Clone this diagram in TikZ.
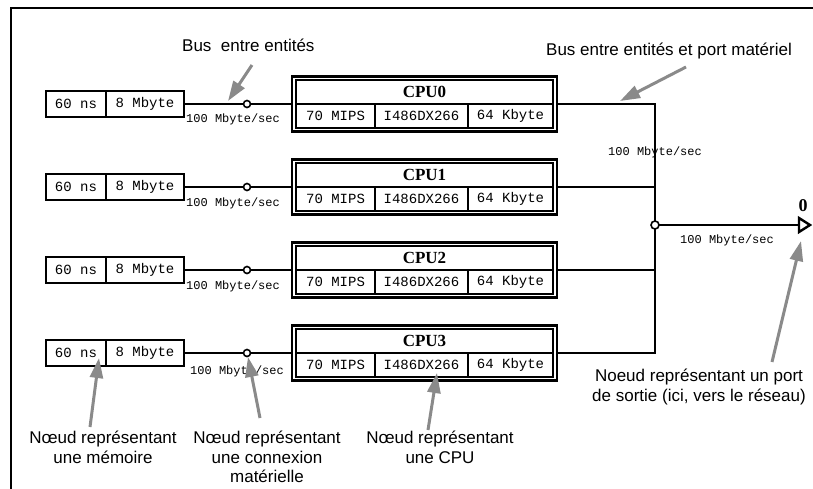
\documentclass[tikz,border=0pt]{standalone}
\usepackage{fontspec}
\setmainfont{Liberation Serif}
\setmonofont{Liberation Mono}
\newfontfamily\annfont{Liberation Sans}
\usetikzlibrary{arrows.meta}
\definecolor{pgray}{RGB}{138,138,138}
\begin{document}
\begin{tikzpicture}[x=1pt,y=-1pt,
  memcell/.style={draw,line width=2.2pt,inner sep=0,minimum height=26pt,font=\ttfamily\fontsize{14}{16}\selectfont},
  cpuouter/.style={draw,line width=2.6pt,inner sep=0,minimum width=265pt,minimum height=55pt},
  cputitle/.style={draw,line width=1.4pt,inner sep=0,minimum width=257pt,minimum height=24pt,font=\bfseries\fontsize{17}{18}\selectfont},
  cpucell/.style={draw,line width=1.4pt,inner sep=0,minimum height=24pt,font=\ttfamily\fontsize{14}{16}\selectfont},
  wire/.style={line width=2.2pt},
  junc/.style={circle,draw,fill=white,line width=1.6pt,inner sep=0,minimum size=7pt},
  rate/.style={font=\ttfamily\fontsize{12}{14}\selectfont,inner sep=0},
  ann/.style={font=\annfont\fontsize{17}{19.5}\selectfont,align=center,inner sep=0},
  pointer/.style={pgray,line width=3pt,-{Triangle[length=20pt,width=13pt]}}
]
\useasboundingbox (0,0) rectangle (813,488);
% frame
\draw[line width=2.4pt] (11,490) -- (11,8) -- (815,8);

% rows
\foreach \i/\r in {0/104,1/187,2/270,3/353}{
  \node[memcell,minimum width=60pt] (ma\i) at (76,\r) {60 ns};
  \node[memcell,minimum width=78pt] (mb\i) at (145,\r) {8 Mbyte};
  \node[cpuouter] (cpu\i) at (424.5,\r) {};
  \node[cputitle] (ct\i) at (424.5,\r-12) {CPU\i};
  \node[cpucell,minimum width=79pt] (cm\i) at (335.5,\r+12) {70 MIPS};
  \node[cpucell,minimum width=93pt] (cp\i) at (421.5,\r+12) {I486DX266};
  \node[cpucell,minimum width=85pt] (ck\i) at (510.5,\r+12) {64 Kbyte};
  \draw[wire] (mb\i.east) -- (cpu\i.west);
  \node[junc] (j\i) at (247,\r) {};
}

% right bus
\coordinate (bt) at (655,104);
\coordinate (bb) at (655,353);
\draw[line width=2.6pt] (cpu0.east) -- (bt) -- (bb) -- (cpu3.east);
\draw[wire] (cpu1.east) -- (cpu1.east -| bt);
\draw[wire] (cpu2.east) -- (cpu2.east -| bt);
\coordinate (out) at (799,225);
\draw[wire] (655,225) -- (out);
\node[junc,minimum size=8pt] (jo) at (655,225) {};
\draw[line width=2.4pt,fill=white,line join=miter] (out) -- ++(0,-7) -- ++(11,7) -- ++(-11,7) -- cycle;
\node[font=\bfseries\fontsize{18}{20}\selectfont,inner sep=0] (lab0) at (803,206) {0};

% rate labels
\node[rate,anchor=west] (r0) at (186,119) {100 Mbyte/sec};
\node[rate,anchor=west] (r1) at (186,203) {100 Mbyte/sec};
\node[rate,anchor=west] (r2) at (186,286) {100 Mbyte/sec};
\node[rate,anchor=west] (r3) at (190,371) {100 Mbyte/sec};
\node[rate] (rb) at (655,152) {100 Mbyte/sec};
\node[rate] (ro) at (727,240) {100 Mbyte/sec};

% annotations
\node[ann,anchor=west] (busA) at (182,45) {Bus\ \ entre entités};
\node[ann] (busB) at (669,51) {Bus entre entités et port matériel};
\node[ann,anchor=north] (memA) at (103,431) {Nœud représentant\\une mémoire};
\node[ann,anchor=north] (conA) at (267,431) {Nœud représentant\\une connexion\\matérielle};
\node[ann,anchor=north] (cpuA) at (440,431) {Nœud représentant\\une CPU};
\node[ann,anchor=north] (portA) at (699,369) {Noeud représentant un port\\de sortie (ici, vers le réseau)};

% pointers
\coordinate (p1s) at (252,65);  \coordinate (p1e) at (228,101);
\coordinate (p2s) at (686,67);  \coordinate (p2e) at (620,101);
\coordinate (p3s) at (90,427);  \coordinate (p3e) at (99,358);
\coordinate (p4s) at (260,418); \coordinate (p4e) at (248,357);
\coordinate (p5s) at (428,430); \coordinate (p5e) at (437,373);
\coordinate (p6s) at (772,362); \coordinate (p6e) at (801,241);
\foreach \k in {1,...,6}{\draw[pointer] (p\k s) -- (p\k e);}
\end{tikzpicture}
\end{document}
